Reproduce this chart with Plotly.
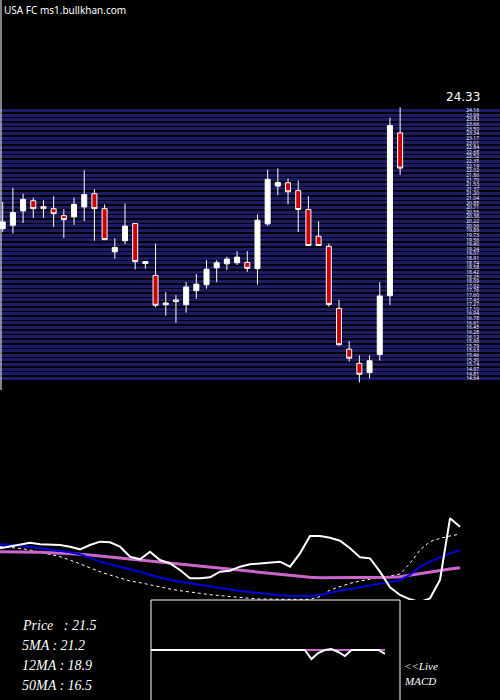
import plotly.graph_objects as go

opens  = [19.96,20.08,20.59,20.95,20.74,20.67,20.42,20.38,20.73,21.20,20.67,19.14,19.53,20.14,18.72,18.30,17.26,17.43,17.26,17.76,17.97,18.57,18.71,18.75,18.76,18.54,20.13,21.47,21.59,21.31,20.64,19.69,19.33,17.13,15.68,15.18,14.85,15.49,17.58,23.36]
highs  = [20.91,21.41,21.20,21.06,20.97,21.11,20.65,21.06,22.03,21.36,20.82,19.61,20.85,20.14,18.79,19.43,17.71,17.60,18.06,18.35,18.84,18.84,18.96,19.16,19.16,20.47,22.05,22.10,21.74,21.67,21.11,20.22,19.43,17.43,15.97,15.46,15.46,18.06,23.90,24.27]
lows   = [19.85,19.79,20.16,20.34,20.34,20.02,19.63,20.09,20.23,19.53,19.57,18.89,19.41,18.51,18.54,17.17,16.87,16.62,16.98,17.47,17.83,18.06,18.49,18.67,18.43,17.97,20.06,21.15,20.82,19.84,19.36,19.36,17.19,15.81,15.24,14.50,14.64,15.28,17.25,21.87]
closes = [20.20,20.53,21.00,20.67,20.67,20.49,20.28,20.82,21.17,20.67,19.57,19.29,20.05,18.79,18.79,17.24,17.32,17.37,17.89,17.99,18.52,18.75,18.88,18.95,18.55,20.26,21.71,21.60,21.27,20.64,19.36,19.36,17.27,15.84,15.36,14.79,15.27,17.57,23.62,22.11]

# lower indicator panel (screen-depth units, larger = lower)
ind_white = [145,140,133,128,133,135,135,140,148,135,125,127,140,170,178,155,180,190,210,235,235,232,215,212,200,193,190,187,185,200,160,108,108,113,122,145,172,175,215,262,285,298,306,295,240,55,80]
ind_blue  = [133,134,137,140,144,148,152,157,163,175,185,193,200,207,215,225,233,240,245,250,255,260,265,269,273,276,280,283,286,287,288,288,285,278,272,267,262,257,252,247,240,225,200,185,172,160,151]
ind_mag   = [155,155,155,156,157,158,159,161,163,165,168,171,174,177,180,183,186,189,192,196,200,203,206,209,212,215,218,221,224,227,230,232,233,233,233,233,233,233,233,232,230,225,220,215,211,207,203]
ind_dot   = [140,142,145,150,157,163,170,180,192,205,215,225,235,243,248,255,262,267,272,277,280,284,287,291,293,295,297,298,298,298,298,298,290,270,260,250,243,237,232,228,222,190,150,125,115,108,102]
macd_line = [0,0,0,0,0,0,0,0,0,0,0,0,0,0,0,0,0,0,0,0,0,0,0,0,-9,-3,0,1,-2,-6,0,0,0,0,0,-4]
macd_sig  = [0,0,0,0,0,0,0,0,0,0,0,0,0,0,0,0,0,0,0,0,0,0,0,0,0,0,0,0,0,0,0,0,0,0,0,0]

xs = list(range(1, len(opens)+1))
xi = list(range(len(ind_white)))
xm = list(range(len(macd_line)))

fig = go.Figure()
fig.add_trace(go.Candlestick(x=xs, open=opens, high=highs, low=lows, close=closes,
    increasing=dict(fillcolor="white", line=dict(color="white", width=1)),
    decreasing=dict(fillcolor="#cc0000", line=dict(color="white", width=1)),
    whiskerwidth=0, showlegend=False, xaxis="x", yaxis="y"))

fig.add_trace(go.Scatter(x=xi, y=ind_dot, mode="lines", line=dict(color="white", width=1, dash="dot"), xaxis="x2", yaxis="y2", showlegend=False))
fig.add_trace(go.Scatter(x=xi, y=ind_mag, mode="lines", line=dict(color="#cc66cc", width=3), xaxis="x2", yaxis="y2", showlegend=False))
fig.add_trace(go.Scatter(x=xi, y=ind_blue, mode="lines", line=dict(color="#0000dd", width=2), xaxis="x2", yaxis="y2", showlegend=False))
fig.add_trace(go.Scatter(x=xi, y=ind_white, mode="lines", line=dict(color="white", width=2), xaxis="x2", yaxis="y2", showlegend=False))
fig.add_trace(go.Scatter(x=xm, y=macd_sig, mode="lines", line=dict(color="#cc66cc", width=2), xaxis="x3", yaxis="y3", showlegend=False))
fig.add_trace(go.Scatter(x=xm, y=macd_line, mode="lines", line=dict(color="white", width=2), xaxis="x3", yaxis="y3", showlegend=False))

H = 700.0
fig.update_layout(
    width=500, height=700, margin=dict(l=0, r=0, t=0, b=0),
    paper_bgcolor="black", plot_bgcolor="black",
    xaxis=dict(domain=[0, 1], range=[0.735, 49.8], visible=False, rangeslider=dict(visible=False)),
    yaxis=dict(domain=[1-383/H, 1-105/H], range=[14.48, 24.35], side="right",
               tick0=14.48, dtick=0.164, gridcolor="#1c1c66", gridwidth=3,
               ticklabelposition="inside", ticklabelstandoff=18, automargin=False,
               tickfont=dict(size=5, color="white"),
               tickformat=".2f", zeroline=False, showline=False),
    xaxis2=dict(domain=[0, 466/500], range=[0, 46.6], visible=False),
    yaxis2=dict(domain=[1-600/H, 1-500/H], range=[300, 0], visible=False),
    xaxis3=dict(domain=[151/500, 385/500], range=[0, 35], visible=False),
    yaxis3=dict(domain=[1-700/H, 1-600/H], range=[-50, 50], visible=False),
    shapes=[
        dict(type="rect", xref="paper", yref="paper", x0=151/500, x1=400/500, y0=-0.01, y1=1-600/H,
             line=dict(color="white", width=1)),
        dict(type="line", xref="paper", yref="paper", x0=0.002, x1=0.002, y0=1-390/H, y1=1,
             line=dict(color="white", width=1)),
    ],
)

ann = [
    ("USA FC ms1.bullkhan.com", 2, 10, 10, "Noto Sans"),
    ("Price   : 21.5", 20, 625, 14, "Liberation Serif"),
    ("5MA : 21.2", 20, 645, 14, "Liberation Serif"),
    ("12MA : 18.9", 20, 665, 14, "Liberation Serif"),
    ("50MA : 16.5", 20, 685, 14, "Liberation Serif"),
    ("<<Live", 402, 666, 11, "Liberation Serif"),
    ("MACD", 402, 681, 11, "Liberation Serif"),
]
for t, x, y, s, f in ann:
    fig.add_annotation(text=("<i>%s</i>" % t) if f != "Noto Sans" else t, x=x/500, y=1-y/H,
                       xref="paper", yref="paper", xanchor="left", yanchor="middle",
                       showarrow=False, font=dict(color="white", size=s, family=f))
fig.add_annotation(text="24.33", x=482/500, y=1-97/H, xref="paper", yref="paper",
                   xanchor="right", yanchor="middle", showarrow=False,
                   font=dict(color="white", size=12, family="DejaVu Sans"))

fig.write_html("out.html", config={"displayModeBar": False},
               post_script="document.body.style.margin='0';document.body.style.padding='0';")
